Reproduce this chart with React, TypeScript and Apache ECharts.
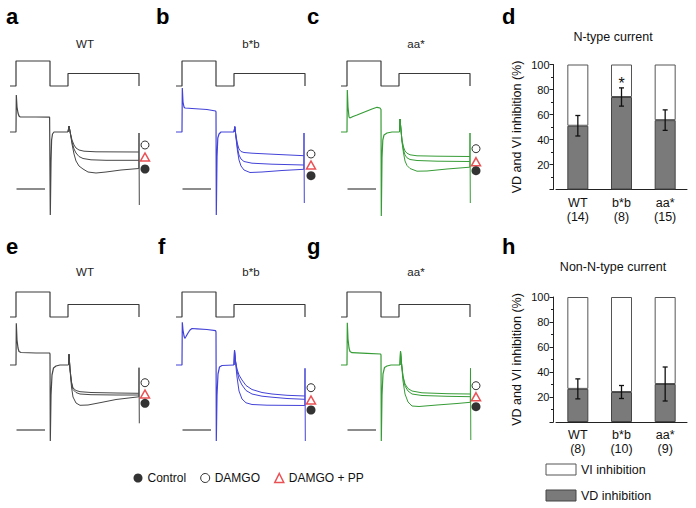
import React, { useEffect, useRef } from "react";
import * as echarts from "echarts";

const FONT = '"Liberation Sans", Arial, Helvetica, sans-serif';

// ---- Voltage protocol (ms, mV) ----
const protocol: [number, number][] = [[-6, -80], [0, -80], [0, 80], [34, 80], [34, -80], [52, -80], [52, 0], [123, 0], [123, -80]];

// ---- Current traces (ms, pA) ----
// a: WT, N-type
const aPre = [[-6, 0], [0, 0], [0.3, 370], [1, 250], [2, 190], [3, 160], [4, 152], [6, 150], [20, 150], [33.6, 148], [34, 150], [34.3, -830], [35, -300], [35.6, -80], [36.5, -20], [38, 0], [52, 0]];
const aCtrl = [[52, 0], [53, 60], [54.5, -20], [56, -120], [58, -220], [60, -290], [63, -340], [67, -370], [72, -400], [80, -410], [90, -400], [105, -380], [122.8, -365], [123, -10], [123.3, -730]];
const aPP = [[52, 0], [53, 60], [54.5, -20], [56, -100], [58, -170], [60, -210], [63, -245], [67, -265], [75, -278], [90, -283], [122.8, -283]];
const aDamgo = [[52, 0], [53, 60], [54.5, -20], [56, -80], [58, -130], [60, -160], [63, -180], [68, -192], [80, -198], [122.8, -200]];
// b: b*b, N-type
const bPre = [[-6, 0], [0, 0], [0.3, 440], [1, 300], [2, 250], [3, 240], [10, 235], [25, 225], [33.6, 210], [34, 200], [34.3, -830], [35, -250], [35.8, -60], [37, -20], [39, 0], [52, 0]];
const bCtrl = [[52, 0], [52.8, 53], [54, -60], [55.5, -190], [57, -280], [59, -340], [62, -380], [68, -405], [80, -400], [100, -385], [121.8, -373], [122, -10], [122.3, -710]];
const bPP = [[52, 0], [52.8, 53], [54, -50], [55.5, -160], [57, -230], [59, -270], [62, -295], [70, -312], [90, -322], [121.8, -330]];
const bDamgo = [[52, 0], [52.8, 53], [54, -40], [55.5, -120], [57, -170], [59, -195], [62, -205], [70, -212], [90, -222], [121.8, -237]];
// c: aa*, N-type
const cPre = [[-6, 0], [0, 0], [0.3, 420], [1, 250], [2, 150], [2.8, 140], [6, 155], [10, 170], [15, 190], [20, 210], [25, 230], [30, 247], [33, 240], [34, 225], [34.3, -840], [35, -260], [35.8, -80], [37, -30], [40, -10], [45, 0], [52.5, 0]];
const cCtrl = [[52.5, 0], [53, 130], [54, 20], [55, -100], [56.5, -210], [58, -290], [60, -335], [63, -365], [70, -392], [80, -390], [100, -370], [122.8, -352], [123, -10], [123.3, -710]];
const cPP = [[52.5, 0], [53, 130], [54, 20], [55, -90], [56.5, -180], [58, -230], [60, -258], [63, -275], [70, -285], [90, -292], [122.8, -295]];
const cDamgo = [[52.5, 0], [53, 130], [54, 20], [55, -80], [56.5, -150], [58, -190], [60, -212], [63, -228], [70, -238], [90, -242], [122.8, -245]];
// e: WT, non-N-type
const ePre = [[-6, 0], [0, 0], [0.3, 417], [1, 250], [2, 170], [3, 135], [5, 125], [20, 120], [33.6, 120], [34, 110], [34.3, -760], [35, -300], [36, -100], [37.5, -30], [40, -10], [44, 0], [52.5, 0]];
const eCtrl = [[52.5, 0], [53, 107], [54, -50], [55.5, -220], [57, -320], [60, -380], [64, -403], [72, -400], [85, -375], [100, -345], [122.8, -318], [123, -27], [123.3, -583]];
const ePP = [[52.5, 0], [53, 107], [54, -40], [55.5, -180], [57, -245], [60, -275], [64, -290], [75, -297], [100, -300], [122.8, -300]];
const eDamgo = [[52.5, 0], [53, 107], [54, -40], [55.5, -170], [57, -230], [60, -255], [64, -267], [75, -275], [100, -280], [122.8, -283]];
// f: b*b, non-N-type
const fPre = [[-6, 0], [0, 0], [0.3, 427], [1, 350], [2, 290], [2.8, 267], [4, 285], [6, 320], [8, 350], [10, 365], [15, 362], [25, 355], [33.6, 343], [34, 330], [34.3, -760], [35, -300], [36, -90], [37.5, -20], [40, -5], [52, 0]];
const fCtrl = [[52, 0], [52.5, 150], [53.5, 30], [55, -120], [57, -260], [60, -340], [64, -378], [70, -395], [85, -402], [122.8, -405], [123, -33], [123.3, -760]];
const fPP = [[52, 0], [52.5, 150], [53.5, 40], [55, -60], [57, -140], [60, -200], [64, -255], [70, -290], [80, -312], [90, -322], [105, -335], [122.8, -343]];
const fDamgo = [[52, 0], [52.5, 150], [53.5, 40], [55, -40], [57, -100], [60, -150], [64, -205], [70, -245], [80, -275], [90, -290], [105, -303], [122.8, -310]];
// g: aa*, non-N-type
const gPre = [[-6, 0], [0, 0], [0.3, 423], [1, 260], [2, 170], [3, 135], [5, 123], [20, 117], [33.6, 110], [34, 100], [34.3, -760], [35, -300], [36, -90], [37.5, -25], [40, -10], [44, 0], [53, 0]];
const gCtrl = [[53, 0], [53.5, 140], [54.5, 10], [56, -160], [58, -290], [61, -370], [65, -410], [72, -415], [90, -400], [110, -385], [123.3, -373], [123.5, -33], [123.8, -750]];
const gPP = [[53, 0], [53.5, 140], [54.5, 20], [56, -120], [58, -210], [61, -260], [65, -290], [75, -305], [100, -313], [123.3, -317]];
const gDamgo = [[53, 0], [53.5, 140], [54.5, 20], [56, -110], [58, -190], [61, -235], [65, -260], [75, -278], [100, -287], [123.3, -290]];

// scale bars (ms span, pA level per panel a,b,c,e,f,g)
const scaleBarT = [0.5, 29];
const scaleBarLevel = [-570, -570, -570, -650, -650, -650];
// end-of-trace markers
const markT = 129;
const controlMark = [-370, -437, -387, -383, -450, -417];
const damgoMark = [-130, -220, -167, -177, -227, -207];
const ppMark = [-250, -330, -297, -290, -350, -317];

// ---- Bar charts ----
const barCats = ["WT", "b*b", "aa*"];
const nN = ["(14)", "(8)", "(15)"];
const nNonN = ["(8)", "(10)", "(9)"];
const vdN = [51, 74, 55.5];
const errN = [8.2, 7.3, 8.2];
const sigN = ["", "*", ""];
const vdNonN = [26.5, 24, 30.4];
const errNonN = [8, 5.2, 13.6];
const sigNonN = ["", "", ""];

const panels = [
  { letter: "a", title: "WT", x0: 16, row: 0, color: "#474747", pre: aPre, ctrl: aCtrl, pp: aPP, damgo: aDamgo, lx: 6 },
  { letter: "b", title: "b*b", x0: 182, row: 0, color: "#4343d8", pre: bPre, ctrl: bCtrl, pp: bPP, damgo: bDamgo, lx: 156 },
  { letter: "c", title: "aa*", x0: 347, row: 0, color: "#369c36", pre: cPre, ctrl: cCtrl, pp: cPP, damgo: cDamgo, lx: 307 },
  { letter: "e", title: "WT", x0: 16, row: 1, color: "#474747", pre: ePre, ctrl: eCtrl, pp: ePP, damgo: eDamgo, lx: 6 },
  { letter: "f", title: "b*b", x0: 182, row: 1, color: "#4343d8", pre: fPre, ctrl: fCtrl, pp: fPP, damgo: fDamgo, lx: 158 },
  { letter: "g", title: "aa*", x0: 347, row: 1, color: "#369c36", pre: gPre, ctrl: gCtrl, pp: gPP, damgo: gDamgo, lx: 307 },
];
const rowLetterY = [16.5, 246.5];
const rowTitleY = [43.5, 271.5];
const rowProtoTop = [61, 292];
const rowCurrBase = [132, 365];

function buildOption() {
  const grid: any[] = [];
  const xAxis: any[] = [];
  const yAxis: any[] = [];
  const series: any[] = [];
  const graphic: any[] = [];

  const line = (data: any, gi: number, color: string, width: number, z = 2) => ({
    type: "line", xAxisIndex: gi, yAxisIndex: gi, data, showSymbol: false, symbol: "none",
    lineStyle: { color, width }, clip: false, silent: true, z,
  });

  panels.forEach((p, i) => {
    const gp = 2 * i, gc = 2 * i + 1;
    grid.push({ left: p.x0 - 6, width: 138, top: rowProtoTop[p.row], height: 25, outerBoundsMode: "none" });
    grid.push({ left: p.x0 - 6, width: 138, top: rowCurrBase[p.row] - 45, height: 135, outerBoundsMode: "none" });
    for (const gi of [gp, gc]) {
      xAxis.push({ type: "value", gridIndex: gi, min: -6, max: 132, show: false });
    }
    yAxis.push({ type: "value", gridIndex: gp, min: -80, max: 80, show: false });
    yAxis.push({ type: "value", gridIndex: gc, min: -900, max: 450, show: false });

    series.push(line(protocol, gp, "#3a3a3a", 1.2));
    series.push(line(p.pre, gc, p.color, 1.2));
    series.push(line(p.ctrl, gc, p.color, 1));
    series.push(line(p.pp, gc, p.color, 1));
    series.push(line(p.damgo, gc, p.color, 1));
    series.push(line([[scaleBarT[0], scaleBarLevel[i]], [scaleBarT[1], scaleBarLevel[i]]], gc, "#666", 1.5));
    series.push({
      type: "scatter", name: "DAMGO", xAxisIndex: gc, yAxisIndex: gc, data: [[markT, damgoMark[i]]],
      symbol: "circle", symbolSize: 8, itemStyle: { color: "#fff", borderColor: "#000", borderWidth: 1 }, clip: false, silent: true, z: 5,
    });
    series.push({
      type: "scatter", name: "DAMGO + PP", xAxisIndex: gc, yAxisIndex: gc, data: [[markT, ppMark[i]]],
      symbol: "triangle", symbolSize: [9, 8], itemStyle: { color: "#fff", borderColor: "#e3262a", borderWidth: 1.5 }, clip: false, silent: true, z: 5,
    });
    series.push({
      type: "scatter", name: "Control", xAxisIndex: gc, yAxisIndex: gc, data: [[markT, controlMark[i]]],
      symbol: "circle", symbolSize: 9, itemStyle: { color: "#000" }, clip: false, silent: true, z: 5,
    });

    graphic.push({
      type: "text", x: p.lx, y: rowLetterY[p.row],
      style: { text: p.letter, font: `bold 22px ${FONT}`, fill: "#000", textAlign: "left", textVerticalAlign: "middle", align: "left", verticalAlign: "middle" },
    });
    graphic.push({
      type: "text", x: p.x0 + 69, y: rowTitleY[p.row],
      style: { text: p.title, font: `11.5px ${FONT}`, fill: "#222", textAlign: "center", textVerticalAlign: "middle", align: "center", verticalAlign: "middle" },
    });
  });

  // bar charts
  const bars = [
    { gi: 12, top: 64.5, vd: vdN, err: errN, sig: sigN, n: nN, title: "N-type current", ty: 36.5, letter: "d", ly: 16.5 },
    { gi: 13, top: 297, vd: vdNonN, err: errNonN, sig: sigNonN, n: nNonN, title: "Non-N-type current", ty: 266.5, letter: "h", ly: 246.5 },
  ];
  bars.forEach((b) => {
    grid.push({ left: 556, width: 131, top: b.top, height: 125, outerBoundsMode: "none" });
    xAxis.push({
      type: "category", gridIndex: b.gi, data: barCats,
      axisLine: { show: true, lineStyle: { color: "#222", width: 1 } }, axisTick: { show: false },
      axisLabel: { formatter: (v: string, idx: number) => `${v}\n${b.n[idx]}`, fontSize: 12.5, lineHeight: 14, margin: 6, color: "#111", fontFamily: FONT, interval: 0 },
    });
    yAxis.push({
      type: "value", gridIndex: b.gi, min: 0, max: 100, interval: 20, offset: 2.5,
      axisLine: { show: true, lineStyle: { color: "#222", width: 1 } },
      axisTick: { show: true, length: 4, lineStyle: { color: "#222" } },
      minorTick: { show: true, splitNumber: 2, length: 2.5, lineStyle: { color: "#222" } },
      splitLine: { show: false },
      axisLabel: { formatter: (v: number) => (v === 0 ? "" : String(v)), fontSize: 11, color: "#111", margin: 4, fontFamily: FONT },
      name: "VD and VI inhibition (%)", nameLocation: "middle", nameGap: 30,
      nameTextStyle: { fontSize: 12.5, color: "#111", fontFamily: FONT },
    });
    series.push({
      type: "bar", name: "VD inhibition", xAxisIndex: b.gi, yAxisIndex: b.gi, stack: "s" + b.gi, data: b.vd,
      barWidth: 21, itemStyle: { color: "#7a7a7a", borderColor: "#444", borderWidth: 1 }, silent: true, z: 2,
    });
    series.push({
      type: "bar", name: "VI inhibition", xAxisIndex: b.gi, yAxisIndex: b.gi, stack: "s" + b.gi, data: b.vd.map((v) => 100 - v),
      barWidth: 21, itemStyle: { color: "#fff", borderColor: "#555", borderWidth: 1 }, silent: true, z: 2,
    });
    series.push({
      type: "custom", xAxisIndex: b.gi, yAxisIndex: b.gi, silent: true, z: 4,
      data: b.vd.map((v, i) => [i, v, b.err[i]]),
      renderItem: (params: any, api: any) => {
        const i = api.value(0), m = api.value(1), e = api.value(2);
        const t = api.coord([i, m + e]);
        const bt = api.coord([i, m - e]);
        const st = { stroke: "#111", lineWidth: 1.3 };
        const ch: any[] = [
          { type: "line", shape: { x1: t[0], y1: t[1], x2: bt[0], y2: bt[1] }, style: st },
          { type: "line", shape: { x1: t[0] - 2.5, y1: t[1], x2: t[0] + 2.5, y2: t[1] }, style: st },
          { type: "line", shape: { x1: bt[0] - 2.5, y1: bt[1], x2: bt[0] + 2.5, y2: bt[1] }, style: st },
        ];
        if (b.sig[i]) {
          ch.push({ type: "text", x: t[0], y: t[1] - 4, style: { text: b.sig[i], font: `16px ${FONT}`, fill: "#111", textAlign: "center", textVerticalAlign: "middle", align: "center", verticalAlign: "middle" } });
        }
        return { type: "group", children: ch };
      },
    });
    graphic.push({
      type: "text", x: 613, y: b.ty,
      style: { text: b.title, font: `12.5px ${FONT}`, fill: "#111", textAlign: "center", textVerticalAlign: "middle", align: "center", verticalAlign: "middle" },
    });
    graphic.push({
      type: "text", x: 502, y: b.ly,
      style: { text: b.letter, font: `bold 22px ${FONT}`, fill: "#000", textAlign: "left", textVerticalAlign: "middle", align: "left", verticalAlign: "middle" },
    });
  });

  return {
    animation: false,
    backgroundColor: "#fff",
    textStyle: { fontFamily: FONT },
    grid, xAxis, yAxis, series, graphic,
    legend: [
      {
        data: [
          { name: "VI inhibition", icon: "rect", itemStyle: { color: "#fff", borderColor: "#555", borderWidth: 1 } },
          { name: "VD inhibition", icon: "rect", itemStyle: { color: "#7a7a7a", borderColor: "#444", borderWidth: 1 } },
        ],
        orient: "vertical", left: 545.5, top: 463, itemWidth: 30, itemHeight: 11, itemGap: 13,
        textStyle: { fontSize: 12.5, color: "#111", fontFamily: FONT }, selectedMode: false, padding: 0,
      },
      {
        data: [
          { name: "Control", icon: "circle", itemStyle: { color: "#000", borderWidth: 0 } },
          { name: "DAMGO", icon: "circle", itemStyle: { color: "#fff", borderColor: "#000", borderWidth: 1 } },
          { name: "DAMGO + PP", icon: "triangle", itemStyle: { color: "#fff", borderColor: "#e3262a", borderWidth: 1.5 } },
        ],
        orient: "horizontal", left: 133.5, top: 472, itemWidth: 9, itemHeight: 9, itemGap: 14,
        textStyle: { fontSize: 12, color: "#111", fontFamily: FONT }, selectedMode: false, padding: 0,
      },
    ],
  };
}

export default function App() {
  const ref = useRef<HTMLDivElement>(null);
  useEffect(() => {
    document.body.style.margin = "0";
    const chart = echarts.init(ref.current!, null, { renderer: "svg" });
    chart.setOption(buildOption() as any);
    return () => chart.dispose();
  }, []);
  return <div ref={ref} style={{ width: 696, height: 508 }} />;
}
